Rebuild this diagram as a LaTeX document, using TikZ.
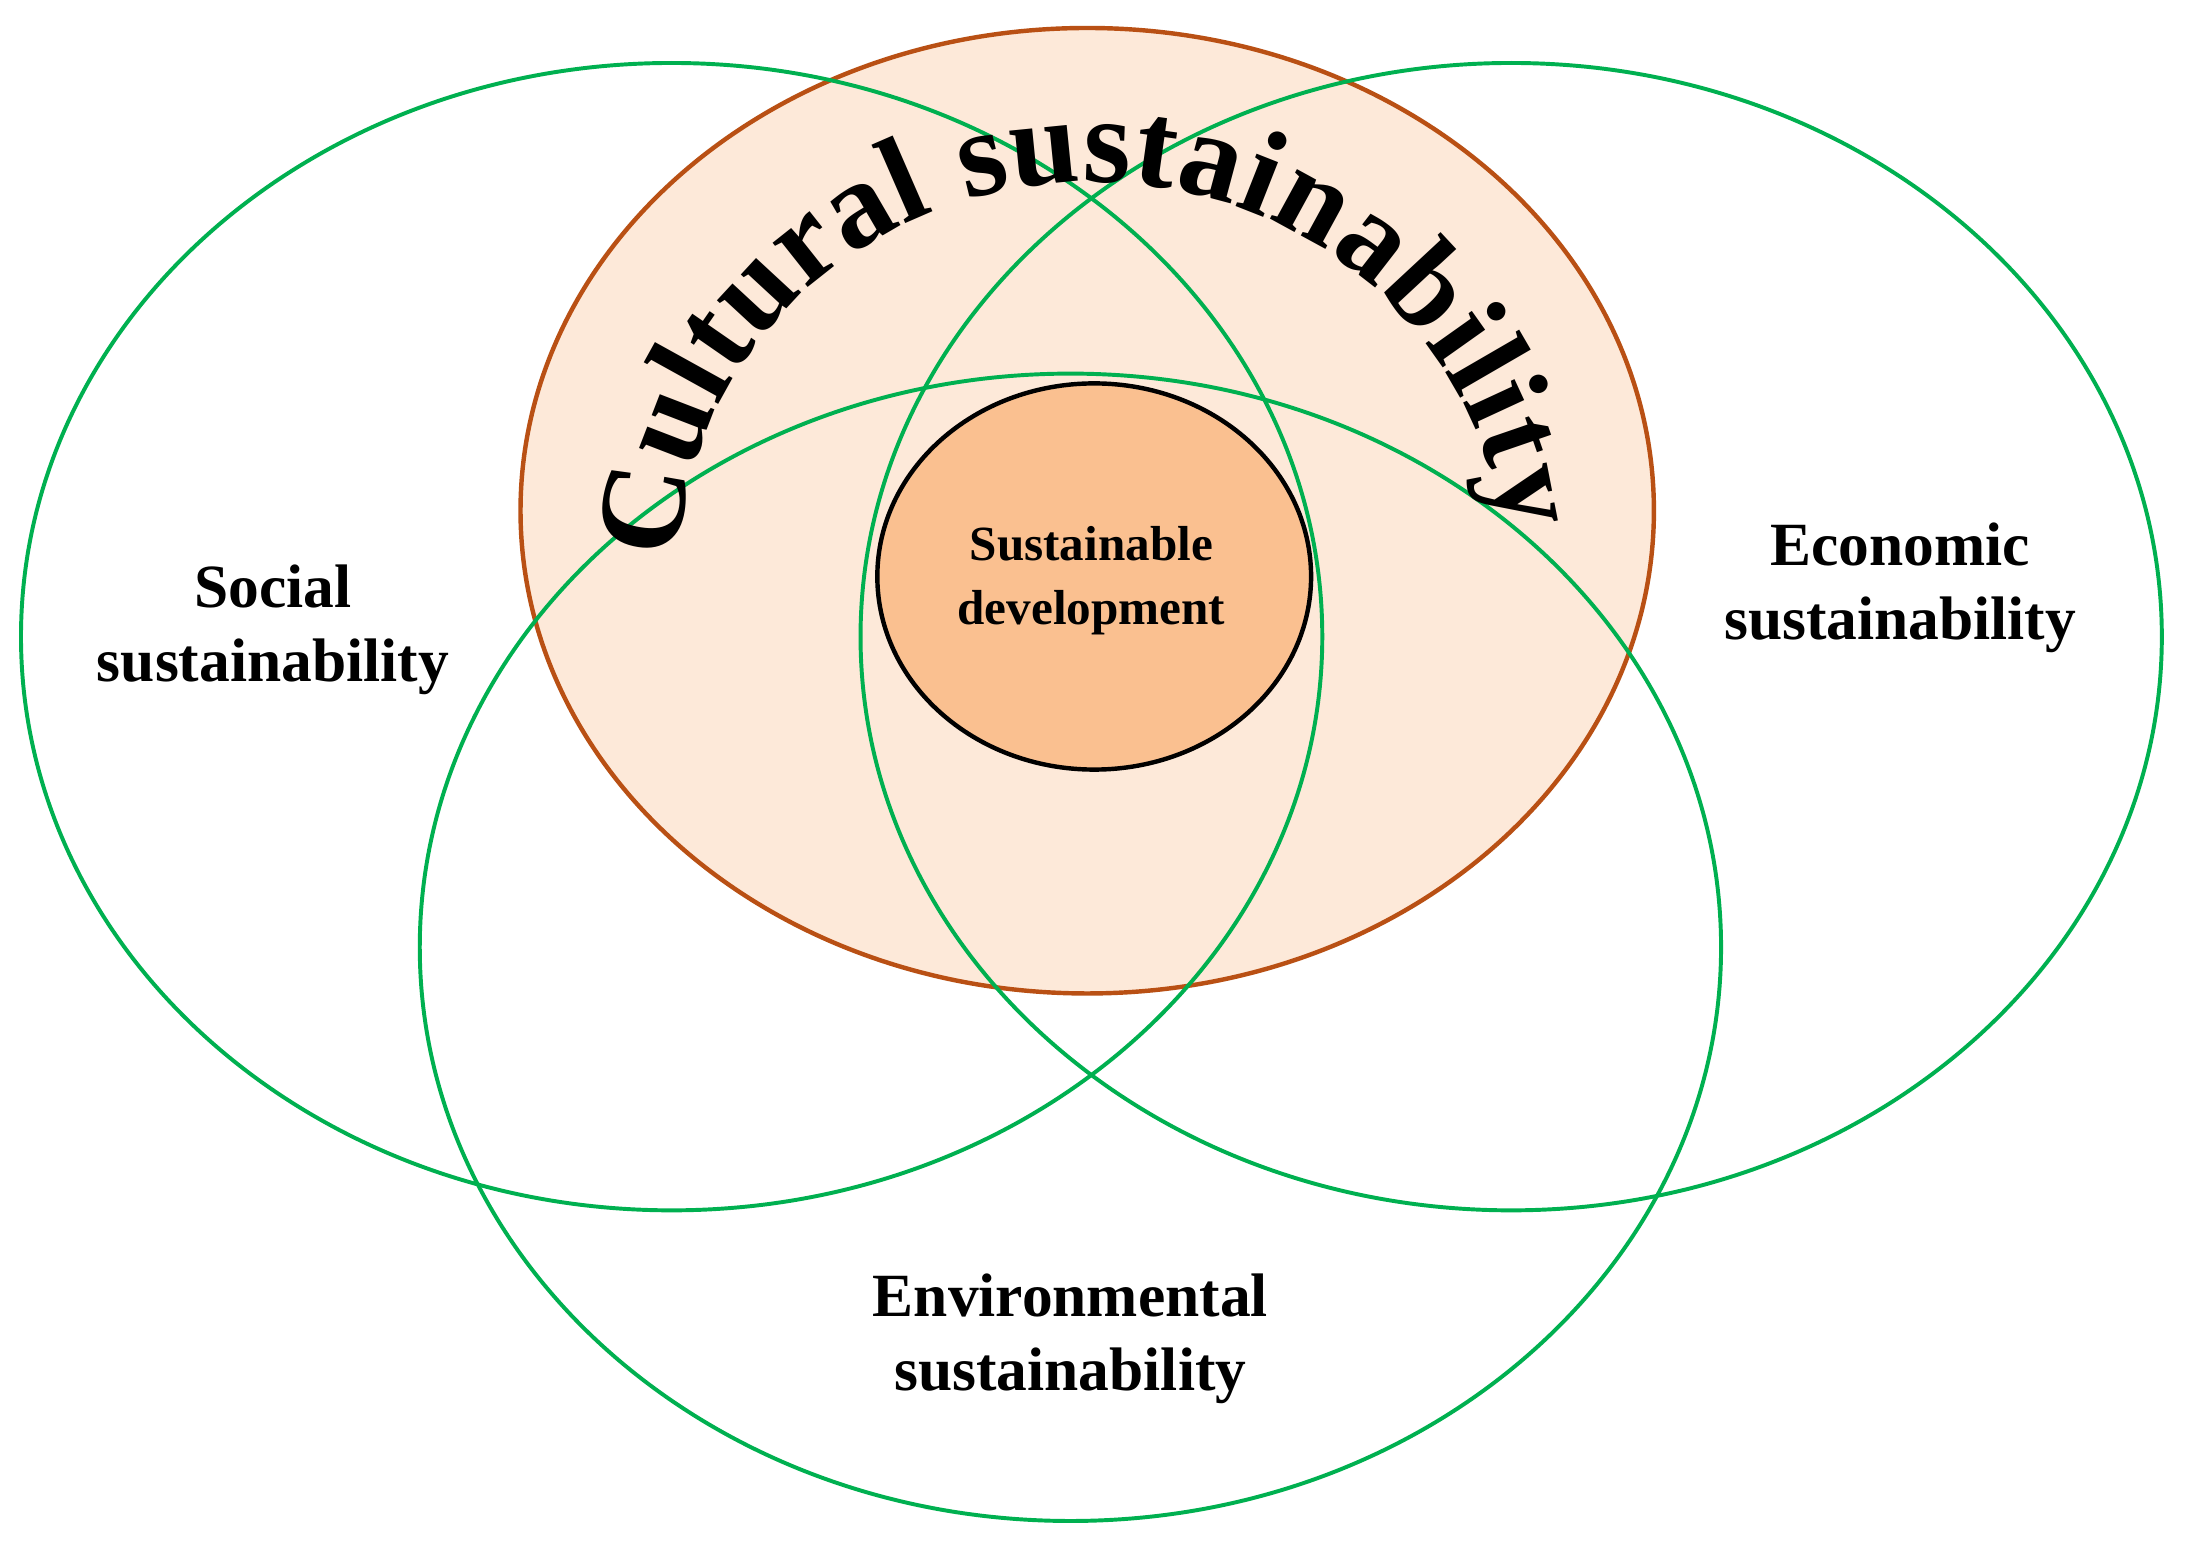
\documentclass[tikz,border=0pt]{standalone}
\usepackage{fontspec}
\setmainfont{Liberation Serif}
\usetikzlibrary{decorations.text}
\definecolor{grn}{RGB}{0,176,80}
\definecolor{brn}{RGB}{185,80,20}
\definecolor{peach}{RGB}{253,233,217}
\definecolor{core}{RGB}{250,192,144}
\tikzset{ring/.style={draw=grn,line width=1.6pt},
lbl/.style={font=\bfseries\fontsize{25}{30}\selectfont,align=center}}
\begin{document}
\begin{tikzpicture}[x=0.02cm,y=-0.02cm]
\useasboundingbox (0,0) rectangle (1568,1102);
\fill[white] (0,0) rectangle (1568,1102);
\filldraw[fill=peach,draw=brn,line width=1.8pt] (777,365) ellipse [x radius=405,y radius=345];
\filldraw[fill=core,draw=black,line width=1.8pt] (782,412) ellipse [x radius=155,y radius=138];
\draw[ring] (480,455) ellipse [x radius=465,y radius=410];
\draw[ring] (1080,455) ellipse [x radius=465,y radius=410];
\draw[ring] (765,677) ellipse [x radius=465,y radius=410];
\path[decorate,decoration={text along path,text align={fit to path},
 text={|\bfseries\fontsize{50}{50}\selectfont|Cultural sustainability}}]
 (780,410) ++(182:295 and 280) arc[start angle=182,end angle=354,x radius=295,y radius=280];
\node[font=\bfseries\fontsize{20}{26}\selectfont,align=center] (sd) at (780,415) {Sustainable\\development};
\node[lbl] (soc) at (195,450) {Social\\sustainability};
\node[lbl] (eco) at (1358,420) {Economic\\sustainability};
\node[lbl] (env) at (765,957) {Environmental\\sustainability};
\end{tikzpicture}
\end{document}
